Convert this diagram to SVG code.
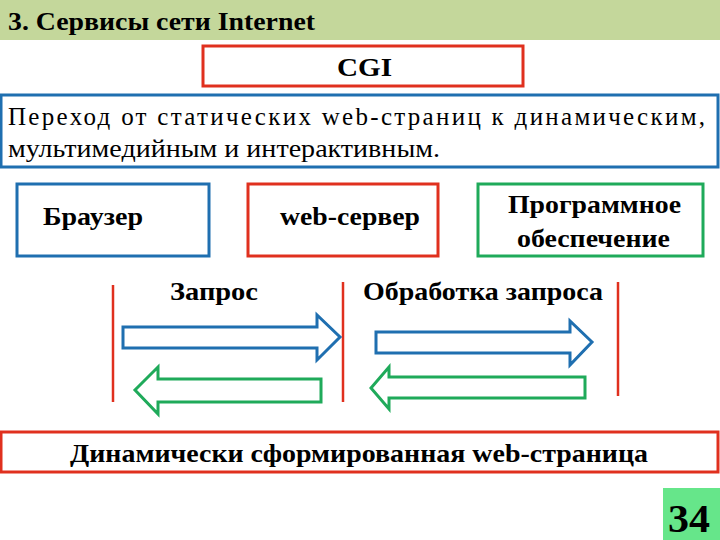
<svg xmlns="http://www.w3.org/2000/svg" width="720" height="540" viewBox="0 0 720 540">
<style>
text{font-family:"Liberation Serif","DejaVu Serif","Times New Roman",serif;fill:#000}
.b{font-weight:bold}
.box{fill:#fff;stroke-width:3}
.red{stroke:#e0301e}.blue{stroke:#1f6fb0}.green{stroke:#1faa5a}
.arr{fill:#fff;stroke-width:3;stroke-linejoin:miter}
.vl{stroke:#e0301e;stroke-width:2.5}
</style>
<rect width="720" height="540" fill="#fff"/>
<rect x="0" y="0" width="720" height="40" fill="#c4d79b"/>
<g font-family="Liberation Serif, serif">
<text class="b" x="8" y="30" font-size="25" textLength="307" lengthAdjust="spacingAndGlyphs">3. Сервисы сети Internet</text>
<g id="cgi"><rect class="box red" x="203" y="46" width="320" height="40"/><text class="b" x="337" y="76" font-size="25" textLength="55" lengthAdjust="spacingAndGlyphs">CGI</text></g>
<g id="desc"><rect class="box blue" x="1" y="95" width="717" height="72"/>
<text x="8" y="125" font-size="25" textLength="697" lengthAdjust="spacing">Переход от статических web-страниц к динамическим,</text>
<text x="8" y="157" font-size="25" textLength="432" lengthAdjust="spacingAndGlyphs">мультимедийным и интерактивным.</text></g>
<g id="browser"><rect class="box blue" x="17" y="184" width="192" height="72"/><text class="b" x="43" y="225" font-size="26" textLength="100" lengthAdjust="spacingAndGlyphs">Браузер</text></g>
<g id="server"><rect class="box red" x="248" y="184" width="190" height="72"/><text class="b" x="280" y="225" font-size="26" textLength="140" lengthAdjust="spacingAndGlyphs">web-сервер</text></g>
<g id="software"><rect class="box green" x="478" y="184" width="225" height="72"/><text class="b" x="508" y="213" font-size="26" textLength="173" lengthAdjust="spacingAndGlyphs">Программное</text><text class="b" x="517" y="247" font-size="26" textLength="153" lengthAdjust="spacingAndGlyphs">обеспечение</text></g>
<g id="labels"><text class="b" x="170" y="300" font-size="26" textLength="88" lengthAdjust="spacingAndGlyphs">Запрос</text><text class="b" x="363" y="300" font-size="26" textLength="240" lengthAdjust="spacingAndGlyphs">Обработка запроса</text></g>
<g id="result"><rect class="box red" x="1" y="432" width="717" height="40"/><text class="b" x="70" y="462" font-size="26" textLength="578" lengthAdjust="spacingAndGlyphs">Динамически сформированная web-страница</text></g>
<g id="page"><rect x="663" y="488" width="57" height="52" fill="#66e68a"/><text class="b" x="668" y="532" font-size="40" textLength="42" lengthAdjust="spacingAndGlyphs">34</text></g>
</g>
<g id="connectors">
<line class="vl" x1="113" y1="285" x2="113" y2="402"/>
<line class="vl" x1="343" y1="282" x2="343" y2="402"/>
<line class="vl" x1="618" y1="282" x2="618" y2="396"/>
<path class="arr blue" d="M123,327 H317 V315 L340,337 L317,360 V348 H123 Z"/>
<path class="arr blue" d="M376,332 H570 V321 L592,342 L570,365 V353 H376 Z"/>
<path class="arr green" d="M321,379 H158 V367 L135,390 L158,414 V402 H321 Z"/>
<path class="arr green" d="M585,377 H389 V367 L371,388 L389,409 V398 H585 Z"/>
</g>
</svg>
